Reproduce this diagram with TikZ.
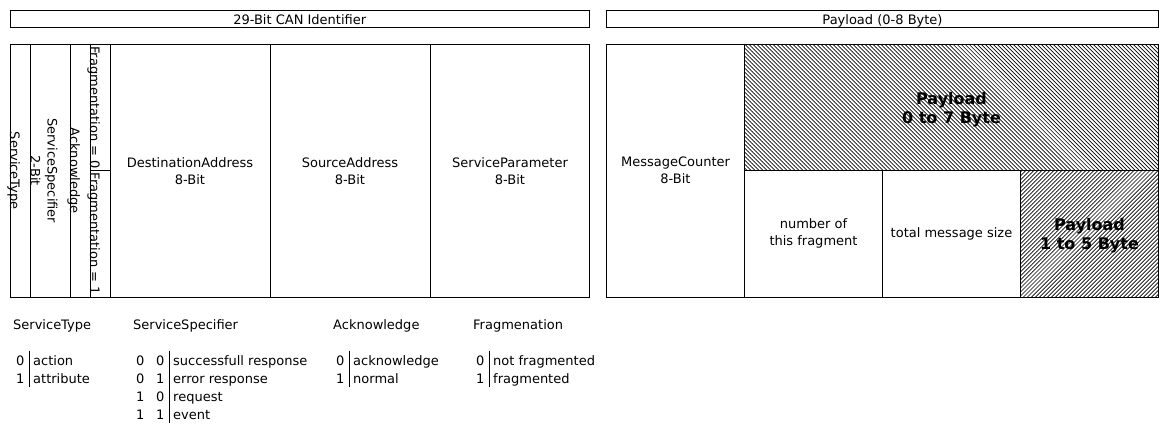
\documentclass[tikz,border=0pt]{standalone}
\usepackage{fontspec}
\setmainfont{DejaVu Sans}
\usetikzlibrary{patterns.meta}

\begin{document}
\begin{tikzpicture}[x = 1pt, y = -1pt, line width = 1pt,
		every node/.style = {font = \fontsize{13}{17}\selectfont, align = center, inner sep = 0pt},
		vlabel/.style = {rotate = -90, anchor = base},
		bigpay/.style = {font = \fontsize{16}{19}\selectfont\bfseries},
		hatchdown/.style = {pattern = {Lines[angle = -45, distance = 2.83pt, line width = 0.7pt]}},
		hatchup/.style = {pattern = {Lines[angle = 45, distance = 2.83pt, line width = 0.7pt]}},
		legend/.style = {anchor = base west},
		legendval/.style = {anchor = base east}]
		\useasboundingbox (0,0) rectangle (1169,432);
		% header bars
		\draw (10,10) rectangle (589.5,27);
		\node[anchor = base] (canid) at (299.75,24) {29-Bit CAN Identifier};
		\draw (606.5,10) rectangle (1158.5,27);
		\node[anchor = base] (payhead) at (882.5,24) {Payload (0-8 Byte)};
		% identifier fields
		\draw (10,44.5) rectangle (589.5,297);
		\foreach \x in {30,70,90,110,270,430}
			\draw (\x,44.5) -- (\x,297);
		\draw (90,170.75) -- (110,170.75);
		\node[vlabel] (stype) at (10,170.75) {ServiceType};
		\node[rotate = -90] (sspec) at (44,170.75) {ServiceSpecifier\\2-Bit};
		\node[vlabel] (ack) at (70,170.75) {Acknowledge};
		\node[vlabel] (fragzero) at (90,107.6) {Fragmentation = 0};
		\node[vlabel] (fragone) at (90,233.9) {Fragmentation = 1};
		\node (dest) at (190,170.75) {DestinationAddress\\8-Bit};
		\node (src) at (350,170.75) {SourceAddress\\8-Bit};
		\node (param) at (510,170.75) {ServiceParameter\\8-Bit};
		% payload fields
		\draw[hatchdown] (744.5,44.5) rectangle (1158.5,170.75);
		\draw[hatchup] (1020.5,170.75) rectangle (1158.5,297);
		\draw (606.5,44.5) rectangle (1158.5,297);
		\draw (744.5,44.5) -- (744.5,297);
		\draw (882.5,170.75) -- (882.5,297);
		\node (counter) at (675.5,170.75) {MessageCounter\\8-Bit};
		\node[bigpay] (payseven) at (951.5,109.5) {Payload\\0 to 7 Byte};
		\node (fragnum) at (813.5,233.9) {number of\\this fragment};
		\node (msgsize) at (951.5,233.9) {total message size};
		\node[bigpay] (payfive) at (1089.5,235.8) {Payload\\1 to 5 Byte};
		% legend
		\node[legend] (stypehead) at (12.7,329) {ServiceType};
		\foreach \v/\t [count = \i from 0] in {0/action,1/attribute} {
			\node[legendval] (stypev\i) at (25,365+18*\i) {\v};
			\node[legend] (stypet\i) at (32.7,365+18*\i) {\t};
		}
		\draw (29.3,350.5) -- (29.3,386.5);
		\node[legend] (sspechead) at (132.7,329) {ServiceSpecifier};
		\foreach \a/\b/\t [count = \i from 0] in {0/0/successfull response,0/1/error response,1/0/request,1/1/event} {
			\node[legendval] (sspeca\i) at (145,365+18*\i) {\a};
			\node[legendval] (sspecb\i) at (165,365+18*\i) {\b};
			\node[legend] (sspect\i) at (172.7,365+18*\i) {\t};
		}
		\draw (169.3,350.5) -- (169.3,422.5);
		\node[legend] (ackhead) at (332.7,329) {Acknowledge};
		\foreach \v/\t [count = \i from 0] in {0/acknowledge,1/normal} {
			\node[legendval] (ackv\i) at (345,365+18*\i) {\v};
			\node[legend] (ackt\i) at (352.7,365+18*\i) {\t};
		}
		\draw (349.3,350.5) -- (349.3,386.5);
		\node[legend] (fraghead) at (472.7,329) {Fragmenation};
		\foreach \v/\t [count = \i from 0] in {0/not fragmented,1/fragmented} {
			\node[legendval] (fragv\i) at (485,365+18*\i) {\v};
			\node[legend] (fragt\i) at (492.7,365+18*\i) {\t};
		}
		\draw (489.3,350.5) -- (489.3,386.5);
	\end{tikzpicture}
\end{document}
